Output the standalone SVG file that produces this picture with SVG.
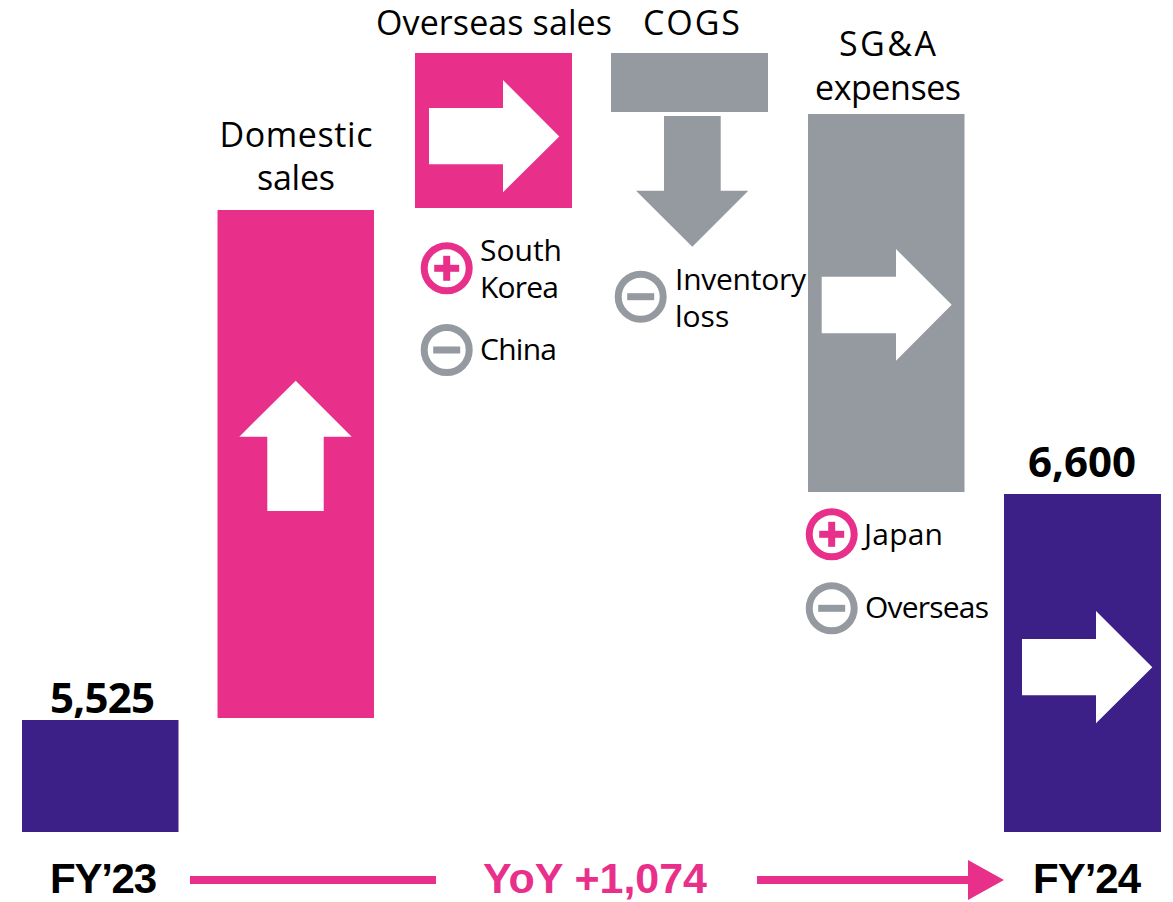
<svg xmlns="http://www.w3.org/2000/svg" width="1173" height="902" viewBox="0 0 1173 902">
<style>
.pink{fill:#E8308A}
.gray{fill:#949AA0}
.purple{fill:#3C1F87}
.white{fill:#FFFFFF}
.head{font-family:"Open Sans","Noto Sans","Liberation Sans",sans-serif;font-size:34px;fill:#000;text-anchor:middle}
.lbl{font-family:"Open Sans","Noto Sans","Liberation Sans",sans-serif;font-size:30px;fill:#000}
.num{font-family:"Open Sans","Noto Sans","Liberation Sans",sans-serif;font-size:42px;font-weight:700;fill:#000;text-anchor:middle}
.fy{font-family:"Liberation Sans","Open Sans",sans-serif;font-size:42px;font-weight:700;fill:#000;text-anchor:middle}
.yoy{font-family:"Liberation Sans","Open Sans",sans-serif;font-size:43px;font-weight:700;fill:#E8308A;text-anchor:middle}
.ringp{fill:none;stroke:#E8308A;stroke-width:7}
.ringg{fill:none;stroke:#949AA0;stroke-width:7}
</style>
<rect width="1173" height="902" fill="#FFFFFF"/>

<g id="fy23">
<rect class="purple" x="22" y="720" width="156.5" height="112"/>
<text class="num" x="102.5" y="713" textLength="105">5,525</text>
<text class="fy" x="103.5" y="893" textLength="107">FY’23</text>
</g>

<g id="domestic-sales">
<text class="head" x="296" y="147" textLength="153">Domestic</text>
<text class="head" x="296" y="190" textLength="78">sales</text>
<rect class="pink" x="217.5" y="210" width="156.5" height="508"/>
<polygon class="white" points="295.7,380.7 351.7,436.7 323.7,436.7 323.7,511 267.3,511 267.3,436.7 239.3,436.7"/>
</g>

<g id="overseas-sales">
<text class="head" x="494" y="35" textLength="236">Overseas sales</text>
<rect class="pink" x="415" y="53" width="157" height="155"/>
<polygon class="white" points="429,108 503,108 503,80 559.3,136.5 503,192.3 503,164.3 429,164.3"/>
<circle class="ringp" cx="446.7" cy="268.3" r="22.5"/>
<rect class="pink" x="434.2" y="264.8" width="25" height="7"/>
<rect class="pink" x="443.2" y="255.8" width="7" height="25"/>
<text class="lbl" x="480" y="261" textLength="82">South</text>
<text class="lbl" x="480" y="298" textLength="79">Korea</text>
<circle class="ringg" cx="446.7" cy="350" r="22.5"/>
<rect class="gray" x="433.2" y="346.5" width="27" height="7"/>
<text class="lbl" x="480" y="360" textLength="77">China</text>
</g>

<g id="cogs">
<text class="head" x="691.5" y="35" textLength="97">COGS</text>
<rect class="gray" x="611" y="53" width="157" height="59"/>
<polygon class="gray" points="664,116 720.7,116 720.7,190.7 748.3,190.7 692.3,246.7 636,190.7 664,190.7"/>
<circle class="ringg" cx="640.7" cy="296.7" r="22.5"/>
<rect class="gray" x="627.2" y="293.2" width="27" height="7"/>
<text class="lbl" x="675" y="290" textLength="131">Inventory</text>
<text class="lbl" x="675" y="327">loss</text>
</g>

<g id="sga-expenses">
<text class="head" x="887.5" y="56" textLength="97">SG&amp;A</text>
<text class="head" x="888" y="100" textLength="146">expenses</text>
<rect class="gray" x="808" y="114" width="156.5" height="378"/>
<polygon class="white" points="821.7,276.7 896,276.7 896,249 951.7,304.7 896,360.7 896,333.3 821.7,333.3"/>
<circle class="ringp" cx="831.7" cy="534.3" r="22.5"/>
<rect class="pink" x="819.2" y="530.8" width="25" height="7"/>
<rect class="pink" x="828.2" y="521.8" width="7" height="25"/>
<text class="lbl" x="864" y="545" textLength="79">Japan</text>
<circle class="ringg" cx="831.7" cy="608.3" r="22.5"/>
<rect class="gray" x="818.2" y="604.8" width="27" height="7"/>
<text class="lbl" x="865" y="618" textLength="124">Overseas</text>
</g>

<g id="fy24">
<text class="num" x="1082" y="477" textLength="108">6,600</text>
<rect class="purple" x="1004" y="494" width="157" height="338"/>
<polygon class="white" points="1022,639 1096,639 1096,611 1152.3,667.3 1096,723.3 1096,695.3 1022,695.3"/>
<text class="fy" x="1087" y="893" textLength="108">FY’24</text>
</g>

<g id="connectors">
<rect class="pink" x="190" y="876" width="246" height="8"/>
<rect class="pink" x="757" y="876" width="213" height="8"/>
<polygon class="pink" points="968,860 1004,880 968,900"/>
</g>

<g id="yoy">
<text class="yoy" x="595" y="893" textLength="224">YoY +1,074</text>
</g>
</svg>
